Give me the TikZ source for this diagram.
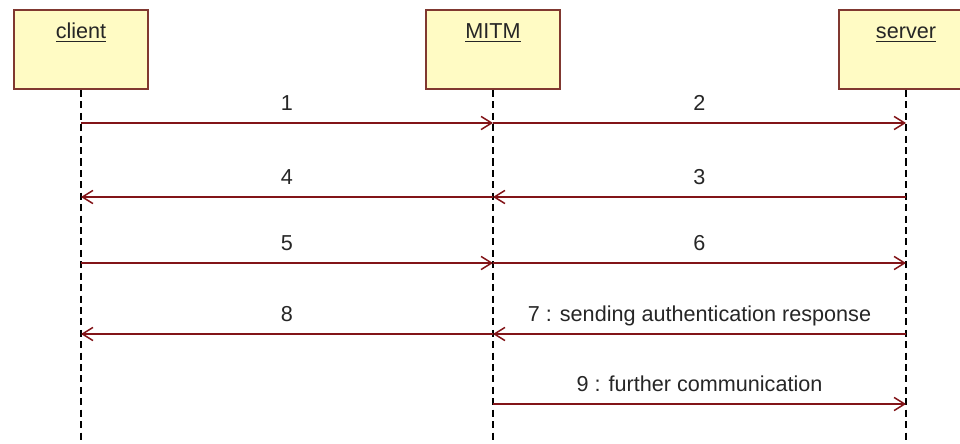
\documentclass[tikz,border=0pt]{standalone}
\usepackage{fontspec}
\setmainfont{Liberation Sans}
\usetikzlibrary{arrows.meta}
\definecolor{objfill}{RGB}{255,251,196}
\definecolor{objline}{RGB}{128,56,48}
\definecolor{msgline}{RGB}{130,20,24}

\begin{document}
\begin{tikzpicture}[x=0.02cm, y=-0.02cm,
  obj/.style={draw=objline, fill=objfill, line width=1.1pt,
              minimum width=2.68cm, minimum height=1.58cm, inner sep=0pt},
  objname/.style={anchor=base, font=\fontsize{12.3}{14}\selectfont, text=black!85},
  life/.style={dash pattern=on 4pt off 2.5pt, line width=0.8pt},
  msg/.style={draw=msgline, line width=0.85pt,
              -{Straight Barb[length=6pt, width=7.5pt]}},
  lbl/.style={anchor=base, yshift=7.4pt, font=\fontsize{12.3}{14}\selectfont,
              text=black!85}
]
\clip (0,0) rectangle (960,443);

%% Objects
\node[obj] (client) at ( 81, 49.5) {};
\node[obj] (mitm)   at (493, 49.5) {};
\node[obj] (server) at (906, 49.5) {};
\node[objname] (clientname) at ( 81, 38.5) {\underline{client}};
\node[objname] (mitmname)   at (493, 38.5) {\underline{MITM}};
\node[objname] (servername) at (906, 38.5) {\underline{server}};

%% Lifelines
\coordinate (clientend) at ( 81, 443);
\coordinate (mitmend)   at (493, 443);
\coordinate (serverend) at (906, 443);
\draw[life] (client) -- (clientend);
\draw[life] (mitm)   -- (mitmend);
\draw[life] (server) -- (serverend);

%% Message ends
\coordinate (c1) at ( 81, 123); \coordinate (m1) at (493, 123); \coordinate (s1) at (906, 123);
\coordinate (c2) at ( 81, 197); \coordinate (m2) at (493, 197); \coordinate (s2) at (906, 197);
\coordinate (c3) at ( 81, 263); \coordinate (m3) at (493, 263); \coordinate (s3) at (906, 263);
\coordinate (c4) at ( 81, 334); \coordinate (m4) at (493, 334); \coordinate (s4) at (906, 334);
\coordinate (m5) at (493, 404); \coordinate (s5) at (906, 404);

%% Messages
\draw[msg] (c1) -- node[lbl] {1} (m1);
\draw[msg] (m1) -- node[lbl] {2} (s1);
\draw[msg] (s2) -- node[lbl] {3} (m2);
\draw[msg] (m2) -- node[lbl] {4} (c2);
\draw[msg] (c3) -- node[lbl] {5} (m3);
\draw[msg] (m3) -- node[lbl] {6} (s3);
\draw[msg] (s4) -- node[lbl] {7 : sending authentication response} (m4);
\draw[msg] (m4) -- node[lbl] {8} (c4);
\draw[msg] (m5) -- node[lbl] {9 : further communication} (s5);

\end{tikzpicture}
\end{document}
